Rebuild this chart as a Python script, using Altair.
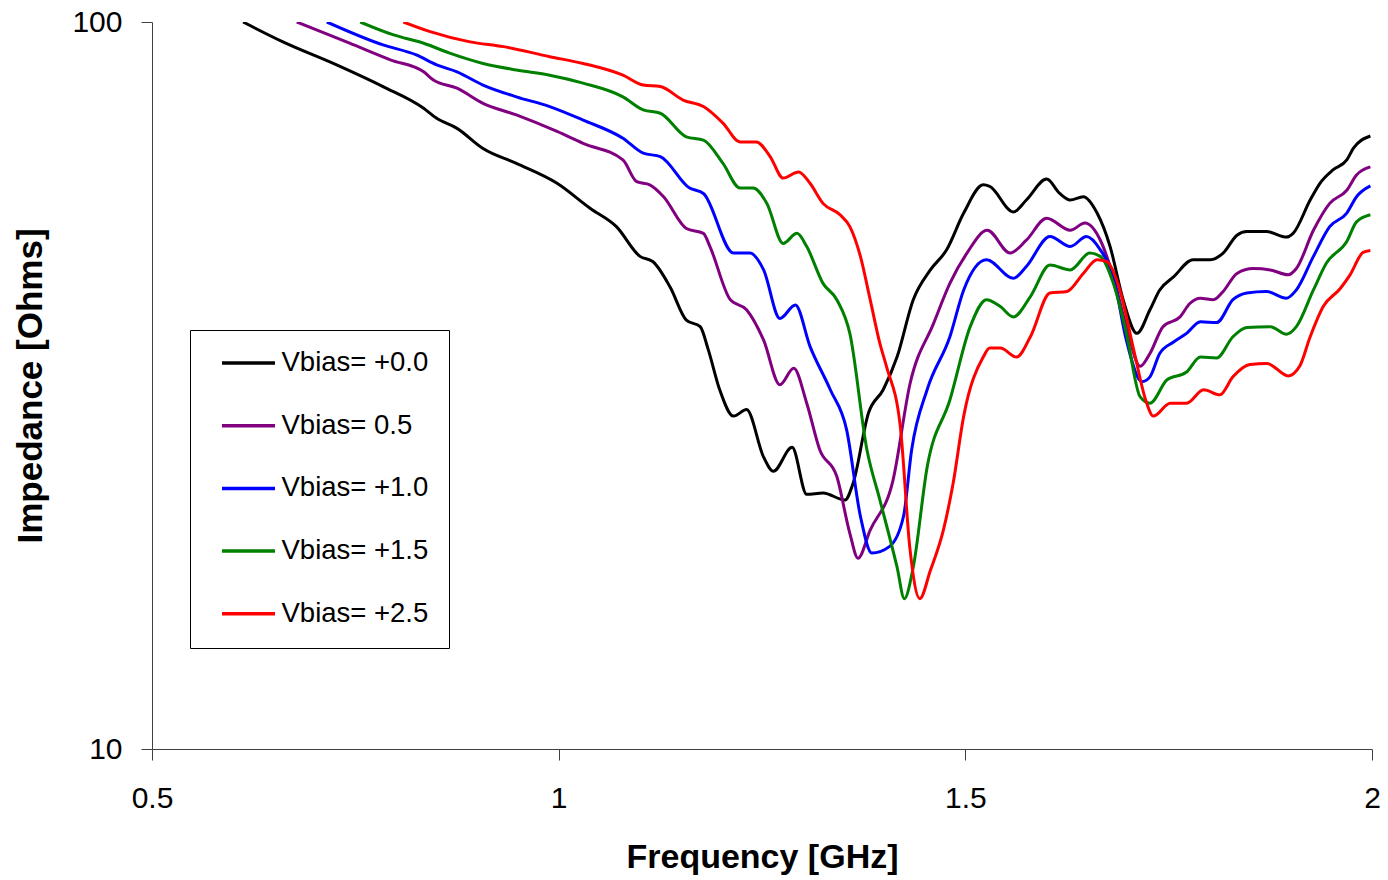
import altair as alt
import pandas as pd

# ---- data (frequency in GHz, impedance in Ohms) ----
series_names = ["Vbias= +0.0", "Vbias= 0.5", "Vbias= +1.0", "Vbias= +1.5", "Vbias= +2.5"]
series_colors = ["#000000", "#800080", "#0000FF", "#008000", "#FF0000"]

f_00 = [0.612, 0.661, 0.727, 0.784, 0.834, 0.850, 0.875, 0.907, 0.948, 0.998,
        1.039, 1.071, 1.100, 1.116, 1.137, 1.157, 1.174, 1.184, 1.198, 1.215,
        1.231, 1.252, 1.264, 1.287, 1.305, 1.325, 1.352, 1.362, 1.381, 1.399,
        1.416, 1.436, 1.457, 1.477, 1.498, 1.522, 1.530, 1.559, 1.575, 1.600,
        1.616, 1.629, 1.645, 1.662, 1.678, 1.694, 1.711, 1.727, 1.739, 1.756,
        1.780, 1.801, 1.817, 1.834, 1.846, 1.870, 1.895, 1.903, 1.924, 1.936,
        1.952, 1.969, 1.977, 1.998]
z_00 = [100, 93.9, 87.3, 81.5, 76.1, 73.7, 71.4, 67.0, 63.9, 60.0,
        55.4, 52.3, 47.6, 46.8, 43.2, 38.9, 38.1, 35.4, 31.2, 28.7,
        29.3, 25.2, 24.1, 26.0, 22.4, 22.5, 22.0, 23.2, 29.0, 31.2,
        34.6, 41.5, 45.6, 48.6, 54.6, 59.7, 59.4, 54.8, 56.9, 60.8,
        58.1, 56.9, 57.5, 54.6, 49.1, 41.5, 37.3, 40.2, 42.8, 44.6,
        47.1, 47.1, 48.1, 50.9, 51.5, 51.5, 50.6, 51.2, 56.9, 60.0,
        62.6, 64.6, 67.0, 69.7]

f_05 = [0.678, 0.743, 0.793, 0.834, 0.846, 0.875, 0.907, 0.948, 0.998, 1.030,
        1.079, 1.096, 1.112, 1.129, 1.157, 1.178, 1.186, 1.211, 1.231, 1.252,
        1.272, 1.289, 1.305, 1.321, 1.342, 1.358, 1.368, 1.383, 1.411, 1.432,
        1.461, 1.481, 1.502, 1.527, 1.555, 1.575, 1.600, 1.629, 1.647, 1.666,
        1.682, 1.698, 1.715, 1.727, 1.743, 1.764, 1.776, 1.789, 1.805, 1.817,
        1.834, 1.854, 1.875, 1.897, 1.907, 1.928, 1.948, 1.969, 1.981, 1.998]
z_05 = [100, 93.5, 88.7, 85.4, 83.2, 81.1, 77.3, 74.5, 70.7, 68.1,
        64.6, 60.3, 59.7, 57.5, 52.0, 51.2, 49.1, 41.5, 40.2, 36.5,
        31.7, 33.4, 29.9, 25.8, 23.7, 19.8, 18.3, 20.0, 23.4, 31.8,
        38.5, 43.7, 48.1, 51.7, 48.1, 50.1, 53.7, 51.7, 52.9, 50.1,
        44.6, 38.1, 33.6, 35.0, 38.1, 39.3, 41.0, 41.7, 41.5, 42.6,
        45.1, 45.8, 45.6, 44.9, 45.8, 51.7, 56.3, 58.7, 61.6, 63.2]

f_10 = [0.715, 0.784, 0.825, 0.850, 0.875, 0.907, 0.948, 0.989, 1.030, 1.079,
        1.104, 1.125, 1.161, 1.178, 1.215, 1.235, 1.252, 1.272, 1.291, 1.309,
        1.334, 1.354, 1.371, 1.385, 1.407, 1.424, 1.434, 1.453, 1.481, 1.498,
        1.526, 1.559, 1.575, 1.604, 1.629, 1.649, 1.666, 1.682, 1.698, 1.717,
        1.727, 1.739, 1.756, 1.772, 1.789, 1.809, 1.829, 1.846, 1.870, 1.895,
        1.907, 1.928, 1.948, 1.969, 1.981, 1.998]
z_10 = [100, 93.0, 90.1, 87.3, 85.4, 81.9, 78.9, 76.5, 73.3, 69.2,
        66.0, 65.3, 59.1, 58.1, 48.1, 48.1, 45.6, 39.1, 40.8, 35.8,
        31.2, 27.5, 20.9, 18.6, 19.0, 20.9, 25.8, 31.2, 36.9, 42.8,
        47.1, 44.4, 46.1, 50.7, 49.1, 50.7, 48.6, 44.6, 36.5, 32.0,
        32.5, 35.0, 36.3, 37.3, 38.7, 38.6, 41.5, 42.4, 42.6, 41.7,
        42.8, 47.6, 52.3, 54.6, 57.5, 59.5]

f_15 = [0.756, 0.797, 0.834, 0.866, 0.907, 0.948, 0.989, 1.030, 1.079, 1.104,
        1.125, 1.157, 1.178, 1.202, 1.223, 1.239, 1.256, 1.276, 1.293, 1.305,
        1.325, 1.342, 1.358, 1.379, 1.395, 1.416, 1.425, 1.436, 1.453, 1.481,
        1.506, 1.526, 1.543, 1.559, 1.580, 1.604, 1.629, 1.653, 1.666, 1.682,
        1.698, 1.715, 1.727, 1.748, 1.772, 1.789, 1.809, 1.829, 1.846, 1.875,
        1.895, 1.907, 1.928, 1.944, 1.969, 1.981, 1.998]
z_15 = [100, 96.0, 93.5, 90.6, 87.7, 85.9, 84.5, 82.4, 78.9, 75.7,
        74.9, 69.5, 68.8, 63.9, 59.1, 59.1, 56.3, 49.6, 51.2, 49.1,
        43.7, 41.5, 37.3, 25.8, 22.0, 17.8, 16.1, 17.8, 24.4, 30.2,
        38.1, 41.5, 40.6, 39.3, 41.9, 46.3, 45.6, 48.1, 47.6, 43.7,
        37.3, 30.5, 29.9, 32.2, 33.0, 34.6, 34.5, 36.9, 38.0, 38.1,
        37.2, 38.1, 42.8, 46.6, 49.9, 53.1, 54.3]

f_25 = [0.809, 0.842, 0.891, 0.932, 0.989, 1.030, 1.079, 1.104, 1.125, 1.153,
        1.178, 1.202, 1.223, 1.243, 1.260, 1.276, 1.295, 1.309, 1.325, 1.346,
        1.358, 1.371, 1.383, 1.395, 1.403, 1.420, 1.432, 1.444, 1.457, 1.473,
        1.485, 1.498, 1.522, 1.530, 1.543, 1.563, 1.580, 1.604, 1.625, 1.645,
        1.662, 1.674, 1.690, 1.707, 1.723, 1.731, 1.752, 1.772, 1.793, 1.813,
        1.829, 1.850, 1.871, 1.897, 1.911, 1.924, 1.940, 1.961, 1.973, 1.989,
        1.998]
z_25 = [100, 97.0, 93.9, 92.5, 89.6, 87.7, 84.5, 81.9, 81.5, 78.1,
        76.5, 72.6, 68.4, 68.4, 65.3, 61.0, 62.2, 60.0, 56.3, 54.3,
        52.3, 47.6, 41.5, 36.1, 33.6, 27.8, 18.8, 16.1, 17.6, 20.0,
        23.2, 28.7, 34.6, 35.6, 35.6, 34.6, 36.9, 42.4, 42.6, 45.1,
        47.1, 46.8, 42.8, 35.4, 29.9, 28.7, 29.9, 29.9, 31.2, 30.7,
        32.5, 33.8, 33.9, 32.6, 33.6, 36.9, 40.6, 43.0, 44.9, 48.2,
        48.5]

x_ticks = [0.5, 1, 1.5, 2]
y_ticks = [10, 100]

# ---- long table ----
rows = []
for name, fs, zs in zip(series_names,
                        [f_00, f_05, f_10, f_15, f_25],
                        [z_00, z_05, z_10, z_15, z_25]):
    for i, (f, z) in enumerate(zip(fs, zs)):
        rows.append({"series": name, "freq": f, "imp": z, "order": i})
df = pd.DataFrame(rows)

FONT = "Liberation Sans"

chart = alt.Chart(df).mark_line(strokeWidth=3, clip=True, interpolate="monotone").encode(
    x=alt.X("freq:Q",
            scale=alt.Scale(domain=[0.5, 2], nice=False, zero=False),
            axis=alt.Axis(values=x_ticks, format="~g", title="Frequency [GHz]",
                          grid=False, tickSize=11, labelPadding=23,
                          labelFlush=False, labelOverlap=False,
                          labelFontSize=30, titleFontSize=34,
                          titleFontWeight="bold", titleX=610, titleY=118,
                          titleBaseline="alphabetic", titleAlign="center")),
    y=alt.Y("imp:Q",
            scale=alt.Scale(type="log", domain=[10, 100], nice=False),
            axis=alt.Axis(values=y_ticks, format="~g", title="Impedance [Ohms]",
                          grid=False, tickSize=11, labelPadding=19,
                          labelFlush=False, labelOverlap=False,
                          labelFontSize=30, titleFontSize=35,
                          titleFontWeight="bold", titleX=-122, titleY=363.5,
                          titleAngle=270, titleBaseline="middle",
                          titleAlign="center")),
    color=alt.Color("series:N",
                    scale=alt.Scale(domain=series_names, range=series_colors),
                    sort=series_names,
                    legend=alt.Legend(orient="none", legendX=38, legendY=308,
                                      title=None, fillColor="white",
                                      strokeColor="#000000", padding=20,
                                      symbolType="stroke", symbolSize=2809,
                                      symbolStrokeWidth=3.5, symbolOffset=10,
                                      clipHeight=26, rowPadding=34.7,
                                      labelFontSize=27.5, labelOffset=4.5,
                                      labelFont=FONT, labelColor="#000000",
                                      labelLimit=400)),
    order="order:Q",
).properties(
    width=1220,
    height=727,
    autosize=alt.AutoSizeParams(type="none"),
    padding={"left": 152, "top": 22, "right": 16, "bottom": 131},
).configure_view(
    stroke=None
).configure_axis(
    domainColor="#404040",
    tickColor="#404040",
    labelColor="#000000",
    titleColor="#000000",
    labelFont=FONT,
    titleFont=FONT,
)

chart.save("out.html", embed_options={"renderer": "svg", "actions": False})
